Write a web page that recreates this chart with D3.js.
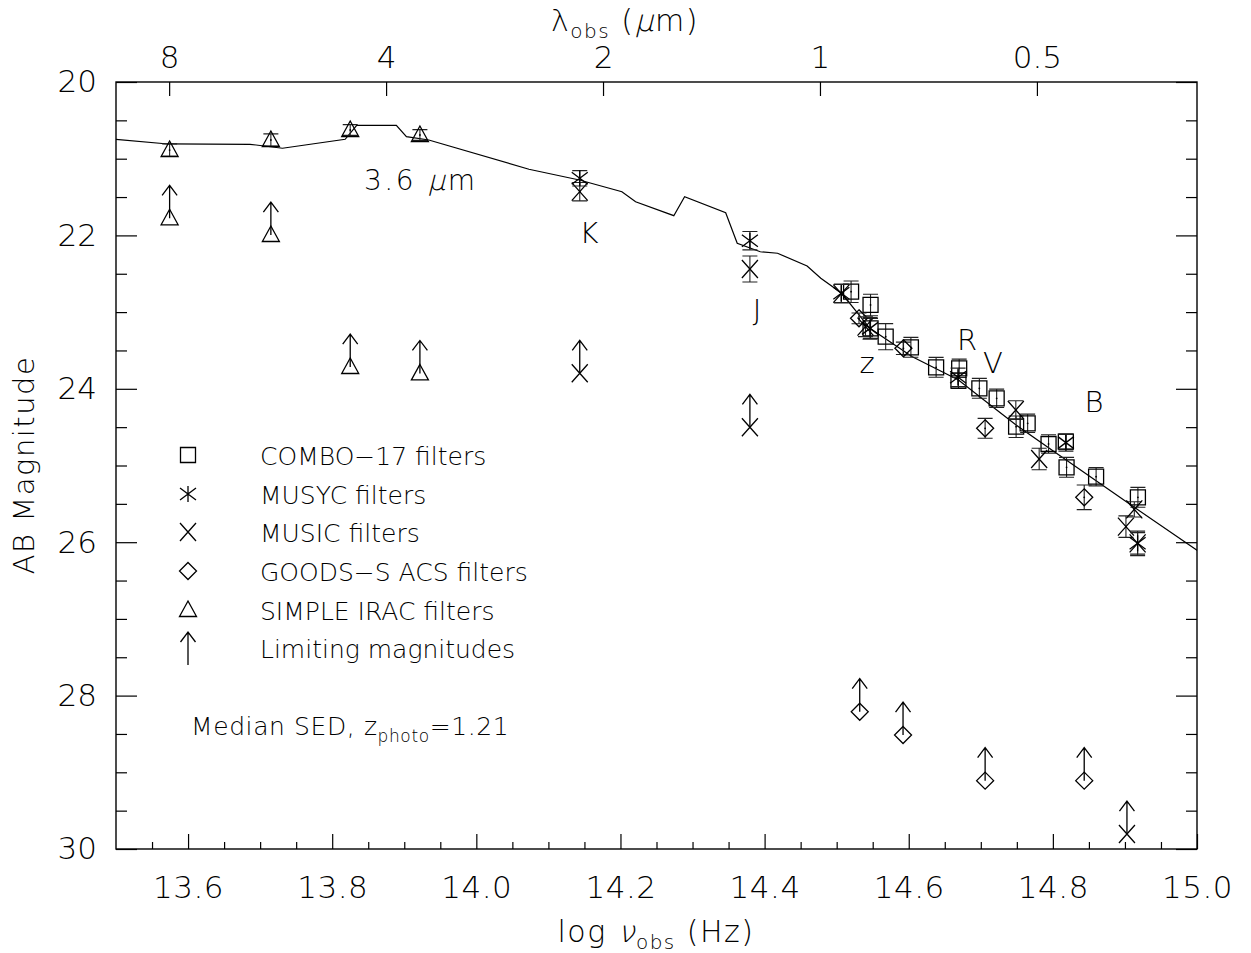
<!DOCTYPE html>
<html><head><meta charset="utf-8">
<script src="https://cdn.jsdelivr.net/npm/d3@7"></script>
<style>
body{margin:0;background:#fff;}
svg text{font-family:"DejaVu Sans","Liberation Sans",sans-serif;font-weight:300;fill:#000;}
</style></head><body>
<svg id="c" width="1251" height="953"></svg>
<script>
// ---------------- data ----------------
const xMajorTicks = [13.6, 13.8, 14.0, 14.2, 14.4, 14.6, 14.8, 15.0];
const yMajorTicks = [20, 22, 24, 26, 28, 30];
const lambdaTicks = [8, 4, 2, 1, 0.5];
const lambdaLabels = ["8", "4", "2", "1", "0.5"];

// median SED model curve (log nu, AB mag)
const sedLogNu = [13.500, 13.572, 13.686, 13.731, 13.818, 13.834, 13.889, 13.903, 13.934, 14.073, 14.143, 14.202, 14.221, 14.274, 14.289, 14.346, 14.362, 14.394, 14.418, 14.459, 14.478, 14.507, 14.546, 14.605, 14.669, 14.719, 14.749, 14.802, 14.862, 14.915, 15.006];
const sedMag   = [20.747, 20.808, 20.812, 20.864, 20.747, 20.565, 20.565, 20.713, 20.756, 21.138, 21.278, 21.430, 21.561, 21.743, 21.495, 21.704, 22.103, 22.213, 22.233, 22.399, 22.559, 22.755, 23.211, 23.582, 23.885, 24.254, 24.472, 24.820, 25.211, 25.558, 26.145];

// COMBO-17 (squares)
const comboLogNu = [14.520, 14.547, 14.547, 14.568, 14.603, 14.638, 14.670, 14.669, 14.698, 14.722, 14.749, 14.765, 14.794, 14.818, 14.819, 14.860, 14.918];
const comboMag   = [22.734, 22.907, 23.212, 23.320, 23.459, 23.720, 23.733, 23.894, 23.994, 24.124, 24.494, 24.450, 24.720, 24.689, 25.024, 25.146, 25.415];
const comboErr   = [0.14, 0.14, 0.13, 0.17, 0.13, 0.13, 0.12, 0.10, 0.13, 0.12, 0.14, 0.12, 0.12, 0.10, 0.13, 0.12, 0.13];

// MUSYC (asterisks)
const musycLogNu = [14.1435, 14.3796, 14.5065, 14.5463, 14.6685, 14.8181, 14.9176];
const musycMag   = [21.256, 22.069, 22.755, 23.212, 23.850, 24.702, 26.015];
const musycErr   = [0.10, 0.12, 0.12, 0.14, 0.12, 0.11, 0.16];

// MUSIC (crosses)
const musicLogNu = [14.1435, 14.3796, 14.5065, 14.5400, 14.7486, 14.7810, 14.9014, 14.9130, 14.9176];
const musicMag   = [21.430, 22.438, 22.760, 23.190, 24.276, 24.915, 25.797, 25.572, 26.015];
const musicErr   = [0.12, 0.17, 0.12, 0.13, 0.12, 0.14, 0.14, 0.10, 0.14];

// GOODS-S ACS (diamonds)
const goodsLogNu = [14.531, 14.5926, 14.706, 14.8435];
const goodsMag   = [23.081, 23.472, 24.515, 25.415];
const goodsErr   = [0.07, 0.08, 0.13, 0.16];

// SIMPLE IRAC (triangles)
const iracLogNu = [13.5744, 13.7149, 13.825, 13.9217];
const iracMag   = [20.887, 20.756, 20.626, 20.691];
const iracErr   = [0.08, 0.08, 0.07, 0.07];

// limiting magnitudes
const limLogNu = [13.5744, 13.7149, 13.825, 13.9217, 14.1435, 14.3796, 14.532, 14.5921, 14.706, 14.8435, 14.9028];
const limMag   = [21.777, 21.995, 23.716, 23.800, 23.798, 24.502, 28.210, 28.514, 29.109, 29.109, 29.805];
const limType  = ["triangle", "triangle", "triangle", "triangle", "cross", "cross", "diamond", "diamond", "diamond", "diamond", "cross"];

const legendSymbols = ["square", "asterisk", "cross", "diamond", "triangle", "arrow"];
const legendLabels = ["COMBO\u221217 filters", "MUSYC filters", "MUSIC filters", "GOODS\u2212S ACS filters", "SIMPLE IRAC filters", "Limiting magnitudes"];

const bandLabels = ["K", "J", "z", "R", "V", "B"];
const bandLabelX = [589, 757, 867, 967, 993, 1094];
const bandLabelY = [243, 320, 373, 350, 373, 412];

// ---------------- drawing ----------------
const svg = d3.select("#c");
const L = 116, R = 1197, T = 82, B = 849;
const x = d3.scaleLinear().domain([13.5, 15.0]).range([L, R]);
const y = d3.scaleLinear().domain([20, 30]).range([T, B]);
const C = 2.998e14; // micron/s

function axisG(axis, tr, fs) {
  const g = svg.append("g").attr("transform", tr).call(axis);
  g.select(".domain").remove();
  g.attr("font-family", null).attr("font-size", fs || 31);
  g.selectAll("line").attr("stroke", "#000").attr("stroke-width", 1.2);
  return g;
}
const r2 = v => Math.round(v * 1000) / 1000;
const xMinor = d3.range(13.55, 15.0, 0.05).map(r2).filter(v => !xMajorTicks.some(m => Math.abs(m - v) < 1e-6));
const yMinor = d3.range(20.5, 30, 0.5).map(r2).filter(v => v % 2 !== 0);

axisG(d3.axisBottom(x).tickValues(xMajorTicks).tickSize(-15).tickPadding(27).tickFormat(d3.format(".1f")), `translate(0,${B})`)
  .selectAll("text").attr("letter-spacing", 0.5);
axisG(d3.axisBottom(x).tickValues(xMinor).tickSize(-7).tickFormat(""), `translate(0,${B})`);
axisG(d3.axisLeft(y).tickValues(yMajorTicks).tickSize(-21).tickPadding(19).tickFormat(d3.format("d")), `translate(${L},0)`);
axisG(d3.axisLeft(y).tickValues(yMinor).tickSize(-11).tickFormat(""), `translate(${L},0)`);
axisG(d3.axisRight(y).tickValues(yMajorTicks).tickSize(-21).tickFormat(""), `translate(${R},0)`);
axisG(d3.axisRight(y).tickValues(yMinor).tickSize(-11).tickFormat(""), `translate(${R},0)`);
axisG(d3.axisTop(x).tickValues(lambdaTicks.map(l => Math.log10(C / l))).tickSize(-14).tickPadding(14)
  .tickFormat((d, i) => lambdaLabels[i]), `translate(0,${T})`);

svg.append("rect").attr("x", L).attr("y", T).attr("width", R - L).attr("height", B - T)
  .attr("fill", "none").attr("stroke", "#000").attr("stroke-width", 1.4);

svg.append("clipPath").attr("id", "clip").append("rect").attr("x", L).attr("y", T).attr("width", R - L).attr("height", B - T);

// SED curve
svg.append("path").datum(d3.zip(sedLogNu, sedMag))
  .attr("clip-path", "url(#clip)")
  .attr("d", d3.line().x(d => x(d[0])).y(d => y(d[1])))
  .attr("fill", "none").attr("stroke", "#000").attr("stroke-width", 1.2);

const layer = svg.append("g").attr("fill", "none").attr("stroke", "#000").attr("stroke-width", 1.3);

function sym(g, type, cx, cy) {
  let d;
  switch (type) {
    case "square": d = `M${cx-7.5},${cy-7.5}h15v15h-15Z`; break;
    case "asterisk": d = `M${cx},${cy-8}V${cy+8}M${cx-8},${cy-6}L${cx+8},${cy+6}M${cx-8},${cy+6}L${cx+8},${cy-6}`; break;
    case "cross": d = `M${cx-8},${cy-9}L${cx+8},${cy+9}M${cx-8},${cy+9}L${cx+8},${cy-9}`; break;
    case "diamond": d = `M${cx},${cy-8.5}L${cx+8.5},${cy}L${cx},${cy+8.5}L${cx-8.5},${cy}Z`; break;
    case "triangle": d = `M${cx},${cy-9}L${cx+8.5},${cy+6.5}L${cx-8.5},${cy+6.5}Z`; break;
    case "arrow": d = `M${cx},${cy+17}V${cy-16}M${cx-7.5},${cy-6}L${cx},${cy-16}L${cx+7.5},${cy-6}`; break;
  }
  g.append("path").attr("d", d);
}
function errBar(g, cx, m, e) {
  const y0 = y(m - e), y1 = y(m + e);
  g.append("path").attr("d", `M${cx},${y0}V${y1}M${cx-7.5},${y0}h15M${cx-7.5},${y1}h15`)
    .attr("stroke", "#222").attr("stroke-width", 1.1);
}
function series(nu, mag, err, type) {
  nu.forEach((v, i) => {
    const cx = x(v), cy = y(mag[i]);
    errBar(layer, cx, mag[i], err[i]);
    sym(layer, type, cx, cy);
    layer.append("circle").attr("cx", cx).attr("cy", cy).attr("r", 0.9).attr("fill", "#000").attr("stroke", "none");
  });
}
series(iracLogNu, iracMag, iracErr, "triangle");
series(comboLogNu, comboMag, comboErr, "square");
series(goodsLogNu, goodsMag, goodsErr, "diamond");
series(musicLogNu, musicMag, musicErr, "cross");
series(musycLogNu, musycMag, musycErr, "asterisk");

// limiting magnitudes
limLogNu.forEach((v, i) => {
  const cx = x(v), cy = y(limMag[i]);
  sym(layer, limType[i], cx, cy);
  layer.append("path").attr("d", `M${cx},${cy}V${cy-33}M${cx-7.5},${cy-23}L${cx},${cy-33}L${cx+7.5},${cy-23}`);
});

// legend
const legBase = [465, 504, 542, 581, 620, 658];
legendSymbols.forEach((s, i) => {
  sym(layer, s, 188, legBase[i] - 10);
  svg.append("text").attr("x", 260).attr("y", legBase[i]).attr("font-size", 25).text(legendLabels[i]);
});
const med = svg.append("text").attr("x", 191).attr("y", 735).attr("font-size", 25).attr("letter-spacing", 0.6);
med.append("tspan").text("Median SED, z");
med.append("tspan").attr("font-size", 17).attr("dy", 7).text("photo");
med.append("tspan").attr("dy", -7).text("=1.21");

// band labels
bandLabels.forEach((t, i) => {
  svg.append("text").attr("x", bandLabelX[i]).attr("y", bandLabelY[i]).attr("font-size", 29)
    .attr("text-anchor", "middle").text(t);
});

// slanted greek letters drawn in the same light weight
function slantGreek(textSel, tspanSel, fs) {
  const p = tspanSel.node().getStartPositionOfChar(0);
  const ch = tspanSel.text();
  tspanSel.attr("fill-opacity", 0);
  svg.append("text").attr("transform", `translate(${p.x},${p.y}) skewX(-14)`).attr("font-size", fs)
    .text(ch);
}

const lab36 = svg.append("text").attr("x", 364).attr("y", 190).attr("font-size", 28).attr("letter-spacing", 2.5);
lab36.append("tspan").text("3.6 ");
const mu1 = lab36.append("tspan").text("\u03bc");
lab36.append("tspan").text("m");
slantGreek(lab36, mu1, 28);

// axis titles
const xt = svg.append("text").attr("x", 656).attr("y", 942).attr("font-size", 30).attr("text-anchor", "middle").attr("letter-spacing", 1.5);
xt.append("tspan").text("log ");
const nu1 = xt.append("tspan").text("\u03bd");
xt.append("tspan").attr("font-size", 20).attr("dy", 7).text("obs");
xt.append("tspan").attr("dy", -7).text(" (Hz)");
slantGreek(xt, nu1, 30);

const tt = svg.append("text").attr("x", 625).attr("y", 31).attr("font-size", 30).attr("text-anchor", "middle").attr("letter-spacing", 1.5);
tt.append("tspan").text("\u03bb");
tt.append("tspan").attr("font-size", 20).attr("dy", 7).text("obs");
tt.append("tspan").attr("dy", -7).text(" (");
const mu2 = tt.append("tspan").text("\u03bc");
tt.append("tspan").text("m)");
slantGreek(tt, mu2, 30);

svg.append("text").attr("transform", "translate(34,465) rotate(-90)").attr("font-size", 29)
  .attr("text-anchor", "middle").attr("letter-spacing", 1.5).text("AB Magnitude");
</script>
</body></html>
